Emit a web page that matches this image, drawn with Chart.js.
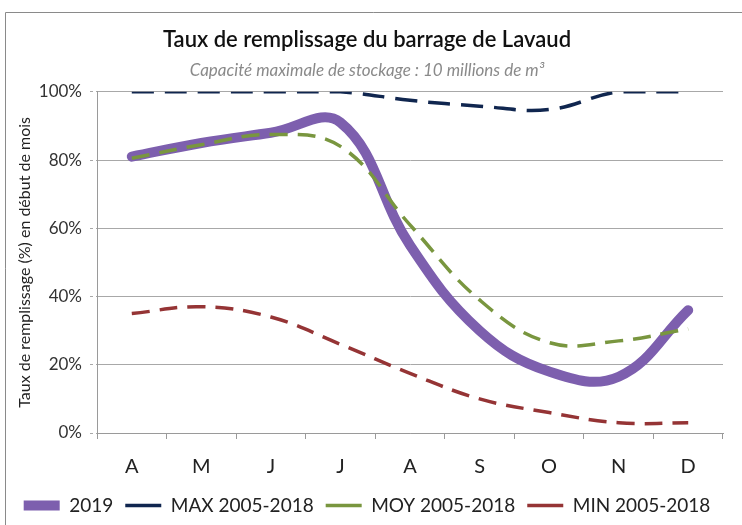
<!DOCTYPE html>
<html>
<head>
<meta charset="utf-8">
<script src="https://cdn.jsdelivr.net/npm/chart.js@4"></script>
<style>
  html, body { margin: 0; padding: 0; background: #fff; }
  #wrap { width: 742px; height: 525px; }
</style>
</head>
<body>
<div id="wrap"><canvas id="mycanvas" width="742" height="525"></canvas></div>
<script>
var months = ['A', 'M', 'J', 'J', 'A', 'S', 'O', 'N', 'D'];
var taux2019 = [81, 85, 88, 91, 55, 30, 18, 16.5, 36];
var max0518 = [100, 100, 100, 100, 97.5, 95.8, 94.8, 100, 100];
var moy0518 = [80.5, 84.5, 87.5, 84, 61, 39, 26.5, 27, 30.5];
var min0518 = [35, 37, 34, 26, 17.5, 10, 6, 3, 3];
var yTicks = [0, 20, 40, 60, 80, 100];

var fontName = "Lato, 'Noto Sans', sans-serif";

// grey frame around the chart (top + left edges visible)
var frame = {
	id: 'frame',
	beforeDraw: function(chart) {
		var c = chart.ctx;
		c.save();
		c.strokeStyle = '#8a8a8a';
		c.lineWidth = 1;
		c.beginPath();
		c.moveTo(5.5, 525);
		c.lineTo(5.5, 12.5);
		c.lineTo(742, 12.5);
		c.stroke();
		c.restore();
	}
};

var chartdata = {
	labels: months,
	datasets: [
		{
			label: '2019',
			data: taux2019,
			borderColor: '#7d5fae',
			backgroundColor: '#7d5fae',
			borderWidth: 10,
			borderCapStyle: 'round',
			borderJoinStyle: 'round',
			order: 5
		},
		{
			label: 'MAX 2005-2018',
			data: max0518,
			borderColor: '#10264f',
			backgroundColor: '#10264f',
			borderWidth: 3.5,
			borderDash: [22, 11],
			order: 1
		},
		{
			label: 'MOY 2005-2018',
			data: moy0518,
			borderColor: '#79963f',
			backgroundColor: '#79963f',
			borderWidth: 3.5,
			borderDash: [18, 10],
			order: 2
		},
		{
			label: 'MIN 2005-2018',
			data: min0518,
			borderColor: '#953435',
			backgroundColor: '#953435',
			borderWidth: 3.5,
			borderDash: [18, 10],
			order: 3
		}
	]
};

var ctx = document.getElementById('mycanvas');
var LineGraph = new Chart(ctx, {
	type: 'line',
	data: chartdata,
	plugins: [frame],
	options: {
		responsive: false,
		animation: false,
		layout: { padding: { top: 27, left: 11, right: 19, bottom: 0 } },
		elements: {
			line: { tension: 0.4, fill: false },
			point: { radius: 0, hoverRadius: 0 }
		},
		plugins: {
			tooltip: { enabled: false },
			title: {
				display: true,
				text: 'Taux de remplissage du barrage de Lavaud',
				color: '#111',
				font: { family: fontName, size: 22, weight: '600' },
				padding: { top: 0, bottom: 7 }
			},
			subtitle: {
				display: true,
				text: 'Capacité maximale de stockage : 10 millions de m³',
				color: '#8a8a8a',
				font: { family: fontName, size: 17, style: 'italic' },
				padding: { bottom: 11 }
			},
			legend: {
				position: 'bottom',
				labels: {
					usePointStyle: true,
					pointStyle: 'line',
					pointStyleWidth: 36,
					color: '#222',
					font: { family: fontName, size: 19 },
					padding: 12,
					sort: function(a, b) { return a.datasetIndex - b.datasetIndex; }
				}
			}
		},
		scales: {
			x: {
				offset: true,
				afterFit: function(scale) { scale.height -= 11; },
				grid: {
					offset: true,
					drawOnChartArea: false,
					drawTicks: true,
					tickLength: 6,
					color: '#9a9a9a'
				},
				border: { display: true, color: '#9a9a9a' },
				ticks: {
					color: '#222',
					font: { family: fontName, size: 20 },
					padding: 16
				}
			},
			y: {
				min: 0,
				max: 100,
				afterFit: function(scale) { scale.width = 86; },
				afterBuildTicks: function(axis) {
					axis.ticks = yTicks.map(function(v) { return { value: v }; });
				},
				grid: {
					color: '#a8a8a8',
					lineWidth: 1,
					tickLength: 7,
					tickBorderDash: [3, 3]
				},
				border: { display: true, color: '#9a9a9a' },
				ticks: {
					color: '#333',
					font: { family: fontName, size: 17 },
					padding: 8,
					callback: function(v) { return v + '%'; }
				},
				title: {
					display: true,
					text: 'Taux de remplissage (%) en début de mois',
					color: '#222',
					font: { family: fontName, size: 16 },
					padding: { top: 4, bottom: 4 }
				}
			}
		}
	}
});
</script>
</body>
</html>
